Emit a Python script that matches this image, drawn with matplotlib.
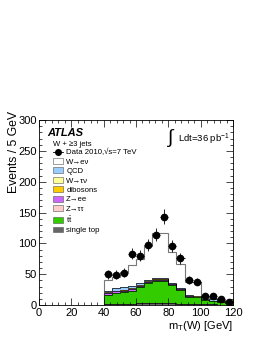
import numpy as np
import matplotlib
matplotlib.use("Agg")
import matplotlib.pyplot as plt
from matplotlib.patches import Patch
from matplotlib.lines import Line2D
from matplotlib.ticker import MultipleLocator

plt.rcParams['font.family'] = ['Liberation Sans', 'DejaVu Sans']
plt.rcParams['mathtext.fontset'] = 'custom'
plt.rcParams['mathtext.rm'] = 'Liberation Sans'
plt.rcParams['mathtext.it'] = 'Liberation Sans:italic'

bin_edges = np.arange(40, 121, 5)
data_vals = [50, 49, 52, 83, 80, 97, 114, 143, 95, 76, 40, 38, 15, 14, 9, 5]

single_top = [1.5, 2, 2, 2, 2.5, 3, 3, 3, 2.5, 2, 1.5, 1.5, 1, 1, 0.5, 0.5]
ttbar = [14.5, 17, 18.5, 20.7, 26.1, 32, 36, 36, 29.9, 22, 12, 11.1, 6.5, 5, 4.5, 2.5]
z_tautau = [0.5, 0.5, 0.5, 0.5, 0.5, 0.5, 0.5, 0.5, 0.3, 0.3, 0.2, 0.2, 0.1, 0.1, 0.1, 0.1]
z_ee = [2.5, 2.5, 2.5, 2.5, 2, 2, 1.5, 1.5, 1, 1, 0.5, 0.5, 0.3, 0.3, 0.2, 0.2]
dibosons = [0.5, 0.5, 0.5, 0.5, 0.5, 0.5, 0.5, 0.5, 0.3, 0.3, 0.3, 0.3, 0.2, 0.2, 0.1, 0.1]
w_taunu = [1, 1, 1, 1, 1, 1, 0.5, 0.5, 0.5, 0.4, 0.3, 0.3, 0.2, 0.2, 0.1, 0.1]
qcd = [2.5, 3.5, 3.6, 3.6, 2.4, 1.5, 1, 1, 1, 1, 1.2, 1.1, 1.7, 2.2, 1.0, 0.5]
w_enu = [18, 19, 24.4, 34.2, 40, 55.5, 73, 74, 50, 40, 22, 23, 4, 3, 1, 1]

components = [
    ("single top", single_top, "#666666"),
    ("t$\\bar{\\rm t}$", ttbar, "#33cc00"),
    ("Z\u2192\u03c4\u03c4", z_tautau, "#ffcccc"),
    ("Z\u2192ee", z_ee, "#cc66ff"),
    ("dibosons", dibosons, "#ffcc00"),
    ("W\u2192\u03c4\u03bd", w_taunu, "#ffff99"),
    ("QCD", qcd, "#99ccff"),
    ("W\u2192e\u03bd", w_enu, "#ffffff"),
]

fig = plt.figure(figsize=(2.66, 3.44), dpi=100)
ax = fig.add_axes([39/266, 1-305/344, (233-39)/266, (305-120)/344])

cum = np.zeros(len(data_vals))
tops = []
for name, vals, col in components:
    cum = cum + np.array(vals)
    tops.append((name, cum.copy(), col))

for name, top, col in reversed(tops):
    ec = "#777777" if name.startswith("W\u2192e") else "black"
    ax.stairs(top, bin_edges, fill=True, facecolor=col, edgecolor='none', baseline=0)
    ax.stairs(top, bin_edges, fill=False, edgecolor=ec, linewidth=0.8 if ec != "black" else 0.5)

centers = 0.5 * (bin_edges[:-1] + bin_edges[1:])
ax.errorbar(centers, data_vals, yerr=np.sqrt(data_vals), xerr=2.5, fmt='o',
            color='black', markersize=4.5, elinewidth=0.6, capsize=0, zorder=10)

ax.set_xlim(0, 120)
ax.set_ylim(0, 300)
ax.xaxis.set_major_locator(MultipleLocator(20))
ax.xaxis.set_minor_locator(MultipleLocator(4))
ax.yaxis.set_major_locator(MultipleLocator(50))
ax.yaxis.set_minor_locator(MultipleLocator(10))
ax.tick_params(which='both', direction='in', top=True, right=True, labelsize=8, width=0.5)
ax.tick_params(which='major', length=5)
ax.tick_params(which='minor', length=2.5)
ax.tick_params(axis='x', pad=2)
ax.tick_params(axis='y', pad=1.5)
for s in ax.spines.values():
    s.set_linewidth(0.6)

ax.set_ylabel("Events / 5 GeV", fontsize=8.8)
ax.yaxis.set_label_coords(-0.098, 0.825)
ax.set_xlabel("m$_{\\rm T}$(W) [GeV]", fontsize=8, loc='right', labelpad=1)

ax.text(0.04, 0.93, "ATLAS", transform=ax.transAxes, fontsize=8,
        fontweight='bold', fontstyle='italic', va='center')
ax.text(0.07, 0.865, "W + \u22653 jets", transform=ax.transAxes, fontsize=5.5, va='center')
ax.text(0.66, 0.905, "$\\int$", transform=ax.transAxes, fontsize=14, va='center')
ax.text(0.715, 0.895, "Ldt=36 pb$^{-1}$", transform=ax.transAxes, fontsize=6.8, va='center')

handles = [Line2D([], [], marker='o', color='black', markersize=4, linewidth=0.6)]
labels = ["Data 2010,\u221as=7 TeV"]
for name, top, col in reversed(tops):
    handles.append(Patch(facecolor=col, edgecolor='#555555', linewidth=0.4))
    labels.append(name)
leg = ax.legend(handles, labels, loc='upper left', bbox_to_anchor=(0.07, 0.845),
                frameon=False, fontsize=5.6, handlelength=1.3, handleheight=0.8,
                labelspacing=0.22, handletextpad=0.45, borderpad=0, borderaxespad=0)

fig.savefig("out.png", dpi=100)
